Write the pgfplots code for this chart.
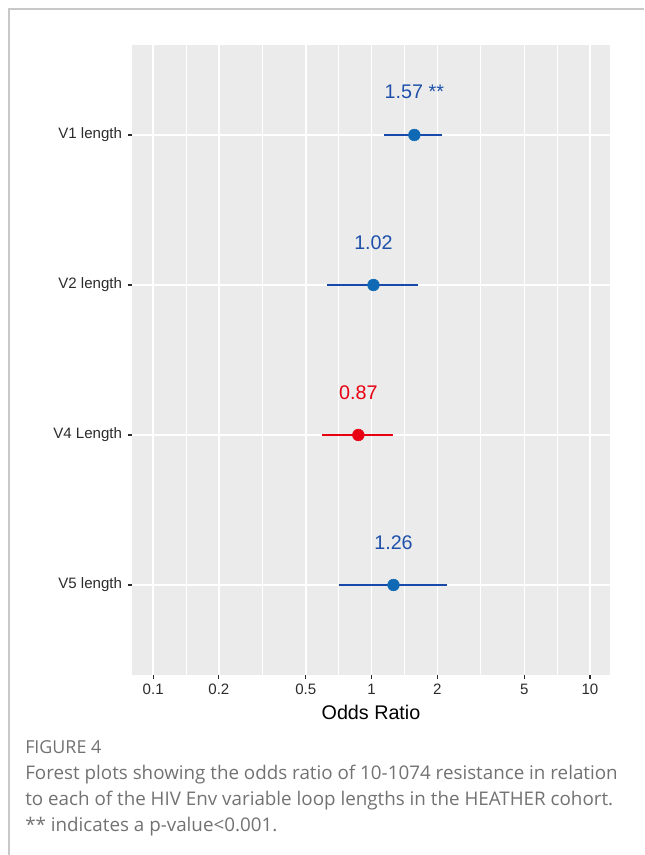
\documentclass[border=0pt]{standalone}
\usepackage{pgfplots}
\pgfplotsset{compat=1.18}
\usepackage{fontspec}
\setmainfont{Liberation Sans}
\newfontfamily\capfont{Open Sans}
\definecolor{panel}{HTML}{EBEBEB}
\definecolor{frameg}{HTML}{C8C8C8}
\definecolor{blueline}{RGB}{25,73,168}
\definecolor{bluept}{RGB}{16,105,180}
\definecolor{bluetext}{RGB}{30,80,170}
\definecolor{redc}{RGB}{232,0,18}
\definecolor{capgray}{HTML}{727272}
\definecolor{tickgray}{HTML}{2B2B2B}
\begin{document}
\begin{tikzpicture}[x=0.75pt,y=0.75pt]
\useasboundingbox (0,0) rectangle (644,855);
\draw[frameg, line width=1pt] (9,0) -- (9,846) -- (644,846);
\begin{axis}[
  at={(99pt,135pt)}, anchor=south west,
  scale only axis, width=358.5pt, height=472.5pt,
  xmode=log, xmin=0.0800, xmax=12.35, ymin=0.4, ymax=4.6,
  axis background/.style={fill=panel},
  axis line style={draw=none},
  xtick={0.1,0.2,0.5,1,2,5,10},
  xticklabels={0.1,0.2,0.5,1,2,5,10},
  minor xtick={0.1414,0.3162,0.7071,1.414,3.162,7.071},
  ytick={1,2,3,4},
  yticklabels={V5 length,V4 Length,V2 length,V1 length},
  tick pos=left, tick align=outside,
  major tick length=3pt, minor tick length=0pt,
  tick style={tickgray, line width=0.8pt},
  xmajorgrids, xminorgrids, ymajorgrids,
  major grid style={white, line width=1.1pt},
  minor grid style={white, line width=0.55pt},
  ticklabel style={font=\fontsize{11.3}{12}\selectfont, text=tickgray},
  yticklabel style={xshift=-1pt},
  xticklabel style={yshift=-0.5pt},
  xlabel={Odds Ratio},
  xlabel style={at={(axis description cs:0.5,0)}, anchor=center, yshift=-28pt, font=\fontsize{14.8}{16}\selectfont},
  clip=false,
]
% confidence intervals
\addplot[blueline, line width=2pt] coordinates {(1.142,4) (2.11,4)};
\addplot[blueline, line width=2pt] coordinates {(0.622,3) (1.64,3)};
\addplot[redc, line width=2pt] coordinates {(0.592,2) (1.25,2)};
\addplot[blueline, line width=2pt] coordinates {(0.711,1) (2.21,1)};
% point estimates
\addplot[only marks, mark=*, mark size=4.4pt, color=bluept] coordinates {(1.57,4) (1.02,3) (1.26,1)};
\addplot[only marks, mark=*, mark size=4.4pt, color=redc] coordinates {(0.87,2)};
% labels
\addplot[draw=none, mark=none, nodes near coords, point meta=explicit symbolic,
  every node near coord/.style={anchor=center, text=bluetext, font=\fontsize{14.8}{16}\selectfont}]
  coordinates {(1.57,4.285) [1.57 **] (1.02,3.285) [1.02] (1.26,1.285) [1.26]};
\addplot[draw=none, mark=none, nodes near coords, point meta=explicit symbolic,
  every node near coord/.style={anchor=center, text=redc, font=\fontsize{14.8}{16}\selectfont}]
  coordinates {(0.87,2.285) [0.87]};
\end{axis}
\node[anchor=base west, inner sep=0, text=capgray, font=\capfont\fontsize{13.4}{14}\selectfont] at (25,101) {FIGURE 4};
\node[anchor=base west, inner sep=0, text=capgray, font=\capfont\fontsize{14.1}{15}\selectfont] at (25,75) {Forest plots showing the odds ratio of 10-1074 resistance in relation};
\node[anchor=base west, inner sep=0, text=capgray, font=\capfont\fontsize{14.1}{15}\selectfont] at (25,49) {to each of the HIV Env variable loop lengths in the HEATHER cohort.};
\node[anchor=base west, inner sep=0, text=capgray, font=\capfont\fontsize{14.1}{15}\selectfont] at (25,23) {** indicates a p-value<0.001.};
\end{tikzpicture}
\end{document}
